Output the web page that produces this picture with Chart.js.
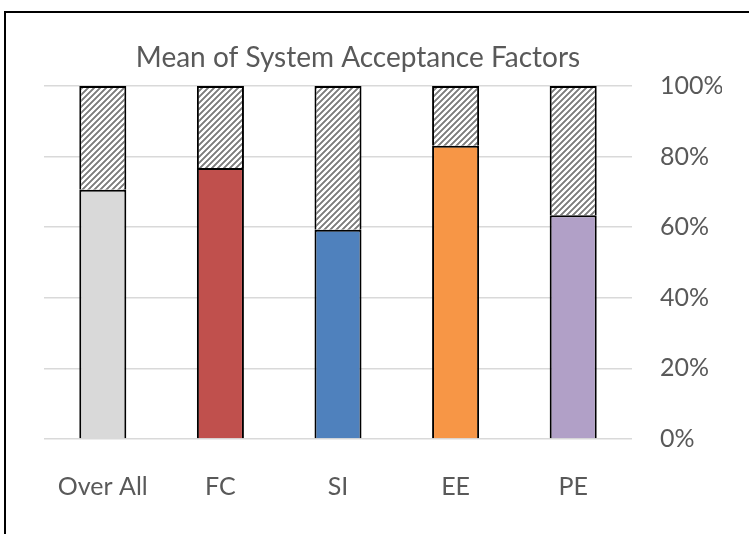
<!DOCTYPE html>
<html>
<head>
<meta charset="utf-8">
<script src="https://cdn.jsdelivr.net/npm/chart.js@4/dist/chart.umd.min.js"></script>
<style>
  html, body { margin: 0; padding: 0; background: #ffffff; }
  #wrap { position: relative; width: 749px; height: 534px; }
</style>
</head>
<body>
<div id="wrap"><canvas id="chart" width="749" height="534"></canvas></div>
<script>
// Acceptance factors and their mean scores (percent of maximum)
const categories = ['Over All', 'FC', 'SI', 'EE', 'PE'];
const meanScores = [70.6, 76.8, 59.3, 83.1, 63.4];
// Remaining share up to 100% for each factor
const remainder = [29.4, 23.2, 40.7, 16.9, 36.6];
const barColors = ['#d9d9d9', '#c0504d', '#4f81bd', '#f79646', '#b1a0c7'];
const yTicks = [0, 20, 40, 60, 80, 100];
const chartTitle = 'Mean of System Acceptance Factors';

const FONT = 'Lato, "Open Sans", sans-serif';
const TEXT = '#595959';

// Upward diagonal hatch used for the remainder segments
function makeHatch() {
  const n = 6;
  const shades = [150, 125, 150, 255, 255, 255];
  const c = document.createElement('canvas');
  c.width = n; c.height = n;
  const g = c.getContext('2d');
  const img = g.createImageData(n, n);
  for (let y = 0; y < n; y++) {
    for (let x = 0; x < n; x++) {
      const v = shades[(x + y) % n];
      const i = (y * n + x) * 4;
      img.data[i] = v; img.data[i + 1] = v; img.data[i + 2] = v; img.data[i + 3] = 255;
    }
  }
  g.putImageData(img, 0, 0);
  return g.createPattern(c, 'repeat');
}

const hatch = makeHatch();

// Frame line along the top and left edges, plus the chart heading
const decorations = {
  id: 'decorations',
  beforeDraw(chart) {
    const ctx = chart.ctx;
    ctx.save();
    ctx.fillStyle = '#ffffff';
    ctx.fillRect(0, 0, chart.width, chart.height);
    ctx.strokeStyle = '#000000';
    ctx.lineWidth = 2;
    ctx.beginPath();
    ctx.moveTo(5, chart.height);
    ctx.lineTo(5, 12);
    ctx.lineTo(chart.width, 12);
    ctx.stroke();
    ctx.restore();
  },
  afterDraw(chart) {
    const ctx = chart.ctx;
    ctx.save();
    ctx.fillStyle = TEXT;
    ctx.font = '28px ' + FONT;
    ctx.textAlign = 'center';
    ctx.textBaseline = 'middle';
    ctx.fillText(chartTitle, 358, 58);
    ctx.restore();
  }
};

new Chart(document.getElementById('chart'), {
  type: 'bar',
  data: {
    labels: categories,
    datasets: [
      {
        label: 'Mean',
        data: meanScores,
        backgroundColor: barColors,
        borderColor: '#000000',
        borderWidth: 2
      },
      {
        label: 'Remainder',
        data: remainder,
        backgroundColor: hatch,
        borderColor: '#000000',
        borderWidth: 2
      }
    ]
  },
  options: {
    responsive: false,
    animation: false,
    events: [],
    layout: { padding: { left: 44, right: 27, top: 86, bottom: 7 } },
    datasets: { bar: { categoryPercentage: 1, barPercentage: 0.4 } },
    plugins: {
      legend: { display: false },
      tooltip: { enabled: false },
      title: { display: false }
    },
    scales: {
      x: {
        stacked: true,
        grid: { display: false },
        border: { display: false },
        ticks: { color: TEXT, font: { family: FONT, size: 25 }, padding: 25 }
      },
      y: {
        stacked: true,
        position: 'right',
        min: 0,
        max: 100,
        afterFit: s => { s.width = 90; },
        afterBuildTicks: s => { s.ticks = yTicks.map(v => ({ value: v })); },
        grid: { color: '#d9d9d9', lineWidth: 1.5, drawTicks: false },
        border: { display: false },
        ticks: {
          color: TEXT,
          font: { family: FONT, size: 25 },
          padding: 28,
          callback: v => v + '%'
        }
      }
    }
  },
  plugins: [decorations]
});
</script>
</body>
</html>
